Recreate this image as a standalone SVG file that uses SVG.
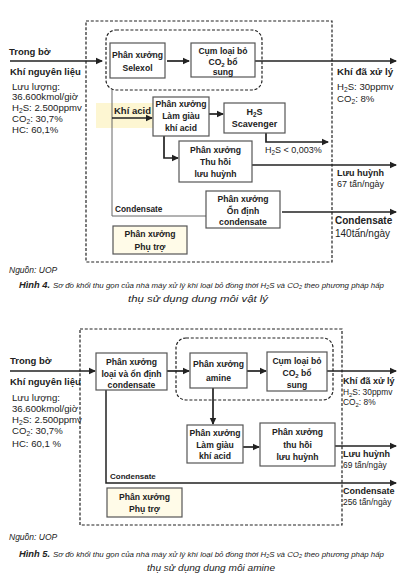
<svg xmlns="http://www.w3.org/2000/svg" width="401" height="584" viewBox="0 0 401 584">
<style>
text{font-family:"Liberation Sans",Arial,sans-serif;fill:#222}
.b{font-weight:bold}
.bx{font-size:8.6px;font-weight:bold;text-anchor:middle}
.lt{font-size:9.6px}
.sm{font-size:8.4px}
.box{fill:#fff;stroke:#555;stroke-width:1.2}
.aux{fill:#fffbe8;stroke:#555;stroke-width:1.2}
.dash{fill:none;stroke:#222;stroke-width:1.2;stroke-dasharray:3 1.8}
.ar{fill:none;stroke:#222;stroke-width:1.7}
.th{fill:none;stroke:#666;stroke-width:1}
.cap{font-style:italic;font-size:8.4px}
.c1{font-size:7.9px}
.sub{font-size:70%}
</style>
<defs>
<marker id="ah" markerWidth="8" markerHeight="8" refX="6" refY="4" orient="auto" markerUnits="userSpaceOnUse">
<path d="M0,0.8 L7,4 L0,7.2 Z" fill="#222"/>
</marker>
</defs>

<!-- ===== Figure 4 ===== -->
<rect x="96" y="103" width="59" height="25" fill="#fdf6d2"/>
<rect class="dash" x="86" y="21" width="246" height="241"/>
<rect class="dash" x="106" y="30" width="156" height="60" rx="10"/>

<g id="connectors">
<line class="ar" x1="10" y1="61" x2="102" y2="61" marker-end="url(#ah)"/>
<line class="ar" x1="167" y1="61" x2="189" y2="61" marker-end="url(#ah)"/>
<line class="ar" x1="255" y1="61" x2="396" y2="61" marker-end="url(#ah)"/>
<polyline class="th" points="112,90 112,216 206,216"/>
<line class="ar" x1="112" y1="118" x2="152" y2="118" marker-end="url(#ah)"/>
<line class="ar" x1="209" y1="114" x2="223" y2="114" marker-end="url(#ah)"/>
<polyline class="ar" points="266,133 266,142 328,142" marker-end="url(#ah)"/>
<polyline class="ar" points="164,136 164,158 178,158" marker-end="url(#ah)"/>
<line class="ar" x1="252" y1="165" x2="396" y2="165" marker-end="url(#ah)"/>
<line class="ar" x1="282" y1="212" x2="396" y2="212" marker-end="url(#ah)"/>

<line class="ar" x1="10" y1="371" x2="95" y2="371" marker-end="url(#ah)"/>
<line class="ar" x1="167" y1="371" x2="189" y2="371" marker-end="url(#ah)"/>
<line class="ar" x1="247" y1="371" x2="266" y2="371" marker-end="url(#ah)"/>
<line class="ar" x1="327" y1="371" x2="396" y2="371" marker-end="url(#ah)"/>
<line class="ar" x1="213" y1="388" x2="213" y2="424" marker-end="url(#ah)"/>
<line class="ar" x1="243" y1="447" x2="259" y2="447" marker-end="url(#ah)"/>
<line class="ar" x1="335" y1="446" x2="396" y2="446" marker-end="url(#ah)"/>
<polyline class="ar" points="106,390 106,483 396,483" marker-end="url(#ah)" style="stroke-width:1.5"/>
</g>

<g id="f4-selexol"><rect class="box" x="110" y="43" width="55" height="35"/>
<text class="bx" x="137.5" y="58">Phân xưởng</text><text class="bx" x="137.5" y="71">Selexol</text></g>
<g id="f4-cum"><rect class="box" x="191" y="43" width="64" height="34"/>
<text class="bx" x="223" y="54">Cụm loại bỏ</text><text class="bx" x="223" y="65">CO<tspan class="sub" dy="2">2</tspan><tspan dy="-2"> bổ</tspan></text><text class="bx" x="223" y="75">sung</text></g>
<g id="f4-lamgiau"><rect class="box" x="153" y="97" width="56" height="39"/>
<text class="bx" x="181" y="107">Phân xưởng</text><text class="bx" x="181" y="119">Làm giàu</text><text class="bx" x="181" y="131">khí acid</text></g>
<g id="f4-scav"><rect class="box" x="224" y="103" width="61" height="30"/>
<text class="bx" x="254.5" y="115" style="font-size:9px">H<tspan class="sub" dy="2">2</tspan><tspan dy="-2">S</tspan></text><text class="bx" x="254.5" y="127" style="font-size:9px">Scavenger</text></g>
<g id="f4-thuhoi"><rect class="box" x="179" y="141" width="73" height="41"/>
<text class="bx" x="215.5" y="153">Phân xưởng</text><text class="bx" x="215.5" y="165">Thu hồi</text><text class="bx" x="215.5" y="177">lưu huỳnh</text></g>
<g id="f4-ondinh"><rect class="box" x="206" y="191" width="74" height="37"/>
<text class="bx" x="243" y="202">Phân xưởng</text><text class="bx" x="243" y="214">Ổn định</text><text class="bx" x="243" y="225">condensate</text></g>
<g id="f4-phutro"><rect class="aux" x="113" y="226" width="74" height="28"/>
<text class="bx" x="150" y="237">Phân xưởng</text><text class="bx" x="150" y="250">Phụ trợ</text></g>

<g id="f4-labels">
<text class="b" x="9" y="55" font-size="9.5">Trong bờ</text>
<text class="b" x="10" y="75" font-size="9.5">Khí nguyên liệu</text>
<text class="lt" x="12" y="90">Lưu lượng:</text>
<text class="lt" x="12" y="100">36.600kmol/giờ</text>
<text class="lt" x="12" y="111">H<tspan class="sub" dy="2">2</tspan><tspan dy="-2">S: 2.500ppmv</tspan></text>
<text class="lt" x="12" y="122">CO<tspan class="sub" dy="2">2</tspan><tspan dy="-2">: 30,7%</tspan></text>
<text class="lt" x="12" y="133">HC: 60,1%</text>
<text class="b" x="114" y="114" font-size="9.5">Khí acid</text>
<text class="b" x="115" y="212" font-size="8.3">Condensate</text>
<text x="265" y="153" font-size="9">H<tspan class="sub" dy="2">2</tspan><tspan dy="-2">S &lt; 0,003%</tspan></text>
<text class="b" x="337" y="75" font-size="9.8">Khí đã xử lý</text>
<text class="lt" x="337" y="90">H<tspan class="sub" dy="2">2</tspan><tspan dy="-2">S: 30ppmv</tspan></text>
<text class="lt" x="337" y="102">CO<tspan class="sub" dy="2">2</tspan><tspan dy="-2">: 8%</tspan></text>
<text class="b" x="337" y="176" font-size="9">Lưu huỳnh</text>
<text x="337" y="187" font-size="9">67 tấn/ngày</text>
<text class="b" x="335" y="224" font-size="10">Condensate</text>
<text x="335" y="237" font-size="10">140tấn/ngày</text>
<text x="9" y="273" font-size="8.5" font-style="italic">Nguồn: UOP</text>
<text class="cap b" x="19" y="288" textLength="31" lengthAdjust="spacingAndGlyphs">Hình 4.</text>
<text class="cap c1" x="53" y="288" textLength="331" lengthAdjust="spacingAndGlyphs">Sơ đồ khối thu gọn của nhà máy xử lý khí loại bỏ đồng thời H₂S và CO₂ theo phương pháp hấp</text>
<text class="cap" x="128" y="302" textLength="140" lengthAdjust="spacingAndGlyphs">thụ sử dụng dung môi vật lý</text>
</g>

<!-- ===== Figure 5 ===== -->
<rect class="dash" x="80" y="329" width="262" height="196"/>
<rect class="dash" x="176" y="338" width="157" height="62" rx="10"/>

<g id="f5-loai"><rect class="box" x="96" y="353" width="71" height="37"/>
<text class="bx" x="131.5" y="365">Phân xưởng</text><text class="bx" x="131.5" y="377">loại và ổn định</text><text class="bx" x="131.5" y="388">condensate</text></g>
<g id="f5-amine"><rect class="box" x="190" y="353" width="57" height="35"/>
<text class="bx" x="218.5" y="367">Phân xưởng</text><text class="bx" x="218.5" y="381">amine</text></g>
<g id="f5-cum"><rect class="box" x="267" y="352" width="60" height="39"/>
<text class="bx" x="297" y="364">Cụm loại bỏ</text><text class="bx" x="297" y="376">CO<tspan class="sub" dy="2">2</tspan><tspan dy="-2"> bổ</tspan></text><text class="bx" x="297" y="388">sung</text></g>
<g id="f5-lamgiau"><rect class="box" x="187" y="425" width="56" height="38"/>
<text class="bx" x="215" y="436">Phân xưởng</text><text class="bx" x="215" y="448">Làm giàu</text><text class="bx" x="215" y="459">khí acid</text></g>
<g id="f5-thuhoi"><rect class="box" x="260" y="423" width="75" height="43"/>
<text class="bx" x="297.5" y="435">Phân xưởng</text><text class="bx" x="297.5" y="448">thu hồi</text><text class="bx" x="297.5" y="460">lưu huỳnh</text></g>
<g id="f5-phutro"><rect class="aux" x="107" y="488" width="75" height="29"/>
<text class="bx" x="144.5" y="500">Phân xưởng</text><text class="bx" x="144.5" y="512">Phụ trợ</text></g>

<g id="f5-labels">
<text class="b" x="10" y="364" font-size="9.5">Trong bờ</text>
<text class="b" x="10" y="385" font-size="9.5">Khí nguyên liệu</text>
<text class="lt" x="12" y="401">Lưu lượng:</text>
<text class="lt" x="12" y="412">36.600kmol/giờ</text>
<text class="lt" x="12" y="423">H<tspan class="sub" dy="2">2</tspan><tspan dy="-2">S: 2.500ppmv</tspan></text>
<text class="lt" x="12" y="434">CO<tspan class="sub" dy="2">2</tspan><tspan dy="-2">: 30,7%</tspan></text>
<text class="lt" x="12" y="447">HC: 60,1 %</text>
<text class="b" x="110" y="479" font-size="8">Condensate</text>
<text class="b" x="343" y="384" font-size="9">Khí đã xử lý</text>
<text class="sm" x="343" y="395">H<tspan class="sub" dy="2">2</tspan><tspan dy="-2">S: 30ppmv</tspan></text>
<text class="sm" x="343" y="405">CO<tspan class="sub" dy="2">2</tspan><tspan dy="-2">: 8%</tspan></text>
<text class="b" x="343" y="457" font-size="9">Lưu huỳnh</text>
<text class="sm" x="343" y="468">69 tấn/ngày</text>
<text class="b" x="343" y="494" font-size="9">Condensate</text>
<text class="sm" x="343" y="505">256 tấn/ngày</text>
<text x="9" y="540" font-size="8.5" font-style="italic">Nguồn: UOP</text>
<text class="cap b" x="19" y="557" textLength="31" lengthAdjust="spacingAndGlyphs">Hình 5.</text>
<text class="cap c1" x="53" y="557" textLength="331" lengthAdjust="spacingAndGlyphs">Sơ đồ khối thu gọn của nhà máy xử lý khí loại bỏ đồng thời H₂S và CO₂ theo phương pháp hấp</text>
<text class="cap" x="147" y="571" textLength="128" lengthAdjust="spacingAndGlyphs">thụ sử dụng dung môi amine</text>
</g>
</svg>
